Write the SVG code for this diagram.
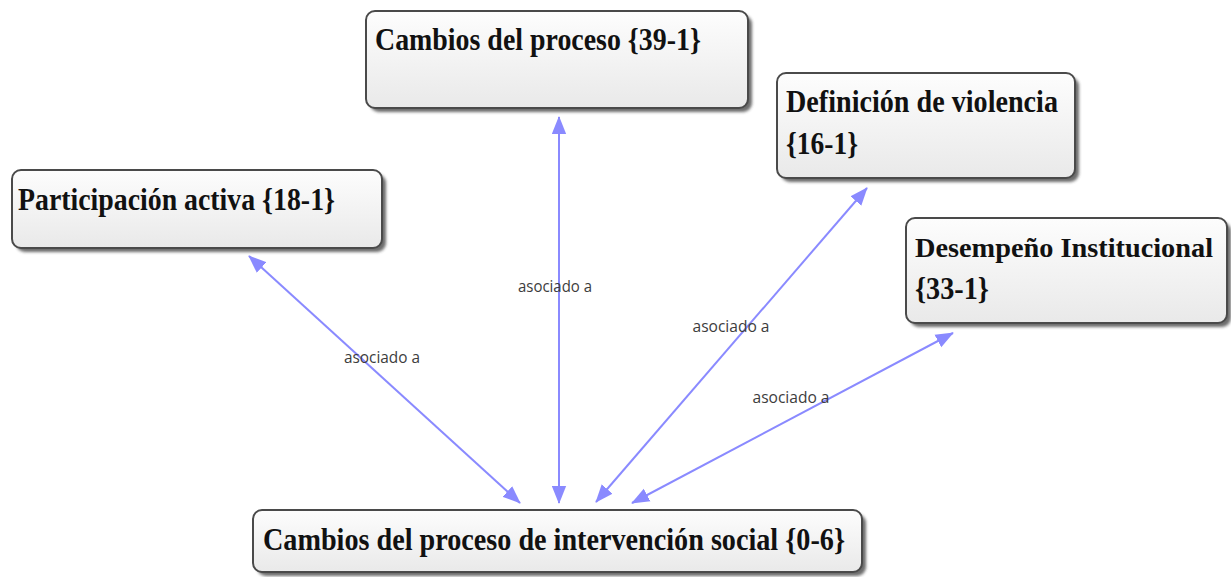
<svg xmlns="http://www.w3.org/2000/svg" width="1231" height="577" viewBox="0 0 1231 577">
<defs>
<linearGradient id="boxFill" x1="0" y1="0" x2="0" y2="1">
<stop offset="0" stop-color="#fdfdfd"/>
<stop offset="1" stop-color="#e9e9e9"/>
</linearGradient>
<filter id="sh" x="-5%" y="-10%" width="115%" height="130%">
<feGaussianBlur stdDeviation="1.5"/>
</filter>
<marker id="arr2" viewBox="0 0 20 16" refX="19" refY="8" markerWidth="18" markerHeight="15" markerUnits="userSpaceOnUse" orient="auto-start-reverse">
<path d="M0,0 L20,8 L0,16 z" fill="#8a8aff"/>
</marker>
</defs>
<style>
.shadow{fill:#3a3a3a;opacity:0.75;filter:url(#sh)}
.box{fill:url(#boxFill);stroke:#4a4a4a;stroke-width:2}
.t{font-family:"Liberation Serif","Times New Roman",serif;font-size:31px;fill:#111;font-weight:bold}
.edge{stroke:#8a8aff;stroke-width:2;fill:none;marker-start:url(#arr2);marker-end:url(#arr2)}
.lbl{font-family:"Open Sans","Liberation Sans",sans-serif;font-size:16px;fill:#3c3c3c;text-anchor:middle}
</style>
<rect width="1231" height="577" fill="#ffffff"/>

<g id="connectors">
<line class="edge" x1="520" y1="503" x2="249" y2="256"/>
<line class="edge" x1="559" y1="503" x2="559" y2="117"/>
<line class="edge" x1="596" y1="502" x2="867" y2="188"/>
<line class="edge" x1="632" y1="503" x2="953" y2="333"/>
<text class="lbl" x="382" y="363" textLength="76" lengthAdjust="spacingAndGlyphs">asociado a</text>
<text class="lbl" x="555" y="292" textLength="74" lengthAdjust="spacingAndGlyphs">asociado a</text>
<text class="lbl" x="731" y="332" textLength="77" lengthAdjust="spacingAndGlyphs">asociado a</text>
<text class="lbl" x="791" y="403" textLength="77" lengthAdjust="spacingAndGlyphs">asociado a</text>
</g>

<g id="node-cambios-proceso">
<rect class="shadow" x="370" y="15" width="382" height="97" rx="9"/>
<rect class="box" x="366" y="11" width="382" height="97" rx="9"/>
<text class="t" x="375" y="50" textLength="326" lengthAdjust="spacingAndGlyphs">Cambios del proceso {39-1}</text>
</g>

<g id="node-participacion">
<rect class="shadow" x="16" y="174" width="370" height="78" rx="9"/>
<rect class="box" x="12" y="170" width="370" height="78" rx="9"/>
<text class="t" x="18" y="210" textLength="317" lengthAdjust="spacingAndGlyphs">Participación activa {18-1}</text>
</g>

<g id="node-definicion">
<rect class="shadow" x="781" y="77" width="298" height="105" rx="9"/>
<rect class="box" x="777" y="73" width="298" height="105" rx="9"/>
<text class="t" x="786" y="112" textLength="272" lengthAdjust="spacingAndGlyphs">Definición de violencia</text>
<text class="t" x="786" y="154" textLength="72" lengthAdjust="spacingAndGlyphs">{16-1}</text>
</g>

<g id="node-desempeno">
<rect class="shadow" x="910" y="222" width="321" height="105" rx="9"/>
<rect class="box" x="906" y="218" width="321" height="105" rx="9"/>
<text class="t" x="915" y="257" style="font-size:28px" textLength="298" lengthAdjust="spacingAndGlyphs">Desempeño Institucional</text>
<text class="t" x="915" y="299" textLength="74" lengthAdjust="spacingAndGlyphs">{33-1}</text>
</g>

<g id="node-cambios-intervencion">
<rect class="shadow" x="257" y="514" width="609" height="62" rx="9"/>
<rect class="box" x="253" y="510" width="609" height="62" rx="9"/>
<text class="t" x="263" y="550" textLength="582" lengthAdjust="spacingAndGlyphs">Cambios del proceso de intervención social {0-6}</text>
</g>
</svg>
